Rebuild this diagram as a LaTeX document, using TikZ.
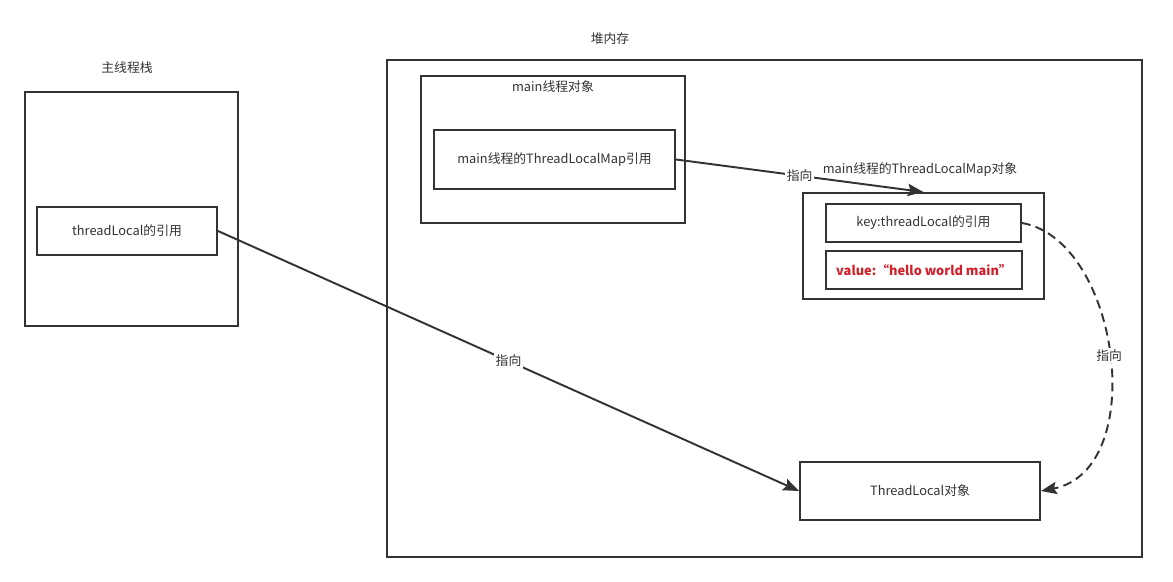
\documentclass[tikz,border=0pt]{standalone}
\usepackage{fontspec}
\setmainfont{Noto Sans CJK SC}
\usepackage{tikz}
\usetikzlibrary{arrows.meta}
\definecolor{linegray}{HTML}{333333}
\definecolor{valred}{HTML}{D1202A}

\begin{document}
\begin{tikzpicture}[font=\fontsize{7.3}{8}\selectfont, text=linegray]
\tikzstyle{box} = [rectangle, draw=linegray, line width=1.1pt, inner sep=0pt]
\tikzstyle{edge} = [draw=linegray, line width=1.1pt, -{Stealth[length=9pt, width=7pt, inset=1.5pt]}]
\tikzstyle{tag} = [fill=white, inner sep=1pt]

\useasboundingbox (0,0) rectangle (23.46,-11.64);

% stack side
\node (stacktitle) at (2.54,-1.36) {主线程栈};
\node[box, minimum width=4.26cm, minimum height=4.68cm] (stack) at (2.63,-4.18) {};
\node[box, minimum width=3.6cm, minimum height=0.96cm] (tlref) at (2.54,-4.62) {threadLocal的引用};

% heap side
\node (heaptitle) at (12.2,-0.78) {堆内存};
\node[box, minimum width=15.1cm, minimum height=9.94cm] (heap) at (15.29,-6.17) {};
\node[box, minimum width=5.28cm, minimum height=2.94cm] (mainobj) at (11.06,-2.99) {};
\node (mainobjtitle) at (11.06,-1.74) {main线程对象};
\node[box, minimum width=4.82cm, minimum height=1.18cm] (mapref) at (11.09,-3.19) {main线程的ThreadLocalMap引用};

\node (mapobjtitle) at (18.4,-3.4) {main线程的ThreadLocalMap对象};
\node[box, minimum width=4.82cm, minimum height=2.12cm] (mapobj) at (18.47,-4.92) {};
\node[box, minimum width=3.9cm, minimum height=0.76cm] (key) at (18.47,-4.46) {key:threadLocal的引用};
\node[box, minimum width=3.92cm, minimum height=0.76cm, text=valred, font=\fontsize{7.3}{8}\selectfont\bfseries] (value) at (18.48,-5.40) {value:“hello world main”};

\node[box, minimum width=4.8cm, minimum height=1.16cm] (tlobj) at (18.4,-9.82) {ThreadLocal对象};

% pointers
\draw[edge] (tlref.east) to node[tag]{指向} (tlobj.west);
\draw[edge] (mapref.east) to node[tag]{指向} (mapobj.north);
\draw[edge, dashed, dash pattern=on 5pt off 3pt] (key.east) .. controls (22.4,-4.8) and (23.0,-9.4) .. node[tag]{指向} (tlobj.east);
\end{tikzpicture}
\end{document}
